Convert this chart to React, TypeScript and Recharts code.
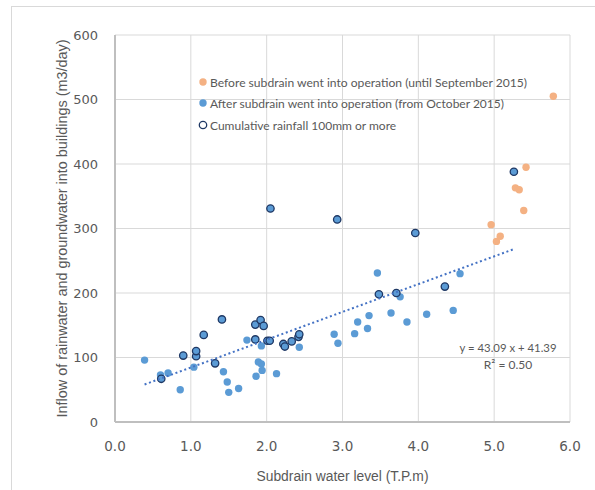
import React from "react";
import { ScatterChart, Scatter, XAxis, YAxis, CartesianGrid } from "recharts";

const beforeX = [4.96, 5.03, 5.08, 5.28, 5.33, 5.39, 5.42, 5.78];
const beforeY = [306, 280, 288, 363, 360, 328, 395, 505];

const afterX = [0.39, 0.6, 0.7, 0.86, 1.04, 1.43, 1.48, 1.5, 1.63, 1.74, 1.86, 1.89, 1.93, 1.93, 1.94, 2.13, 2.43, 2.89, 2.94, 3.16, 3.2, 3.33, 3.35, 3.46, 3.64, 3.76, 3.85, 4.11, 4.46, 4.55];
const afterY = [96, 73, 76, 50, 85, 78, 62, 46, 52, 127, 71, 93, 90, 118, 80, 75, 116, 136, 122, 137, 155, 145, 165, 231, 169, 194, 155, 167, 173, 230];

const rainX = [0.61, 0.9, 1.07, 1.07, 1.17, 1.32, 1.41, 1.85, 1.85, 1.92, 1.96, 2.01, 2.04, 2.05, 2.22, 2.24, 2.33, 2.42, 2.43, 2.93, 3.48, 3.71, 3.96, 4.35, 5.26];
const rainY = [67, 103, 102, 110, 135, 91, 159, 128, 151, 158, 149, 126, 126, 331, 121, 117, 125, 132, 136, 314, 198, 200, 293, 210, 388];

const trendSlope = 43.09;
const trendIntercept = 41.39;
const trendRangeX = [0.39, 5.26];

const xTicks = [0, 1, 2, 3, 4, 5, 6];
const yTicks = [0, 100, 200, 300, 400, 500, 600];

const legendLabels = [
  "Before subdrain went into operation (until September 2015)",
  "After subdrain went into operation (from October 2015)",
  "Cumulative rainfall 100mm or more",
];
const equationText = "y = 43.09 x + 41.39";
const r2Text = "R² = 0.50";
const xTitle = "Subdrain water level (T.P.m)";
const yTitle = "Inflow of rainwater and groundwater into buildings (m3/day)";

const toPts = (xs: number[], ys: number[]) => xs.map((x, i) => ({ x, y: ys[i] }));
const beforeData = toPts(beforeX, beforeY);
const afterData = toPts(afterX, afterY);
const rainData = toPts(rainX, rainY);
const trendData = trendRangeX.map((x) => ({ x, y: trendSlope * x + trendIntercept }));

const ORANGE = "#F4B183";
const BLUE = "#5B9BD5";
const NAVY = "#1F3864";
const TXT = "#595959";
const LEGEND_FONT = "Lato, 'Open Sans', sans-serif";
const TITLE_FONT = "'Liberation Sans', Arial, sans-serif";

const dot = (fill: string, stroke?: string) => (p: any) =>
  <circle cx={p.cx} cy={p.cy} r={3.7} fill={fill} stroke={stroke || "none"} strokeWidth={stroke ? 1.3 : 0} />;

const legendY = [82, 103, 125];
const legendLen = [317, 294, undefined];

export default function App() {
  return (
    <div style={{ position: "absolute", left: 0, top: 0, width: 595, height: 490, background: "#fff", overflow: "hidden" }}>
      <div style={{ position: "absolute", left: 11, top: 6, width: 620, height: 520, border: "1px solid #d9d9d9" }} />
      <div style={{ position: "absolute", left: 0, top: 0 }}>
        <ScatterChart width={595} height={490} margin={{ top: 35, right: 25, bottom: 8, left: 0 }}>
          <CartesianGrid stroke="#d9d9d9" strokeWidth={1} />
          <XAxis
            type="number"
            dataKey="x"
            domain={[0, 6]}
            ticks={xTicks}
            tickFormatter={(v: number) => v.toFixed(1)}
            height={60}
            axisLine={{ stroke: "#bfbfbf", strokeWidth: 2 }}
            tickLine={false}
            tickMargin={13}
            tick={{ fill: TXT, fontSize: 13.5, fontFamily: "DejaVu Sans" }}
            label={(props: any) => {
              const vb = props.viewBox;
              return (
                <text x={vb.x + vb.width / 2} y={481} textAnchor="middle" fill={TXT} fontSize={14} fontFamily={TITLE_FONT} textLength={172} lengthAdjust="spacingAndGlyphs">
                  {xTitle}
                </text>
              );
            }}
          />
          <YAxis
            type="number"
            dataKey="y"
            domain={[0, 600]}
            ticks={yTicks}
            width={115}
            axisLine={{ stroke: "#bfbfbf", strokeWidth: 2 }}
            tickLine={false}
            tickMargin={11}
            tick={{ fill: TXT, fontSize: 13, fontFamily: "DejaVu Sans" }}
            label={(props: any) => {
              const vb = props.viewBox;
              const cy = vb.y + vb.height / 2;
              return (
                <text x={62} y={cy} transform={`rotate(-90, 62, ${cy})`} textAnchor="middle" dominantBaseline="central" fill={TXT} fontSize={14} fontFamily={TITLE_FONT} textLength={378} lengthAdjust="spacingAndGlyphs">
                  {yTitle}
                </text>
              );
            }}
          />
          <Scatter name="before" data={beforeData} isAnimationActive={false} shape={dot(ORANGE)} />
          <Scatter name="after" data={afterData} isAnimationActive={false} shape={dot(BLUE)} />
          <Scatter name="rain" data={rainData} isAnimationActive={false} shape={dot(BLUE, NAVY)} />
          <Scatter
            name="trend"
            data={trendData}
            isAnimationActive={false}
            line={{ stroke: "#4472C4", strokeWidth: 2, strokeDasharray: "2 2.7" }}
            shape={() => <g />}
            legendType="none"
          />
        </ScatterChart>
      </div>
      <svg width={595} height={490} style={{ position: "absolute", left: 0, top: 0, pointerEvents: "none" }}>
        {legendLabels.map((t, i) => (
          <g key={t}>
            <circle cx={203} cy={legendY[i]} r={3.7} fill={i === 0 ? ORANGE : i === 1 ? BLUE : "#fff"} stroke={i === 2 ? NAVY : "none"} strokeWidth={1.3} />
            <text x={210} y={legendY[i]} dominantBaseline="central" fill={TXT} fontSize={12} fontFamily={LEGEND_FONT} textLength={legendLen[i]} lengthAdjust={legendLen[i] ? "spacingAndGlyphs" : undefined}>
              {t}
            </text>
          </g>
        ))}
        <text x={508} y={347} textAnchor="middle" dominantBaseline="central" fill={TXT} fontSize={12} fontFamily={LEGEND_FONT} textLength={97} lengthAdjust="spacingAndGlyphs">
          {equationText}
        </text>
        <text x={508} y={364} textAnchor="middle" dominantBaseline="central" fill={TXT} fontSize={12} fontFamily={LEGEND_FONT}>
          {r2Text}
        </text>
      </svg>
    </div>
  );
}
